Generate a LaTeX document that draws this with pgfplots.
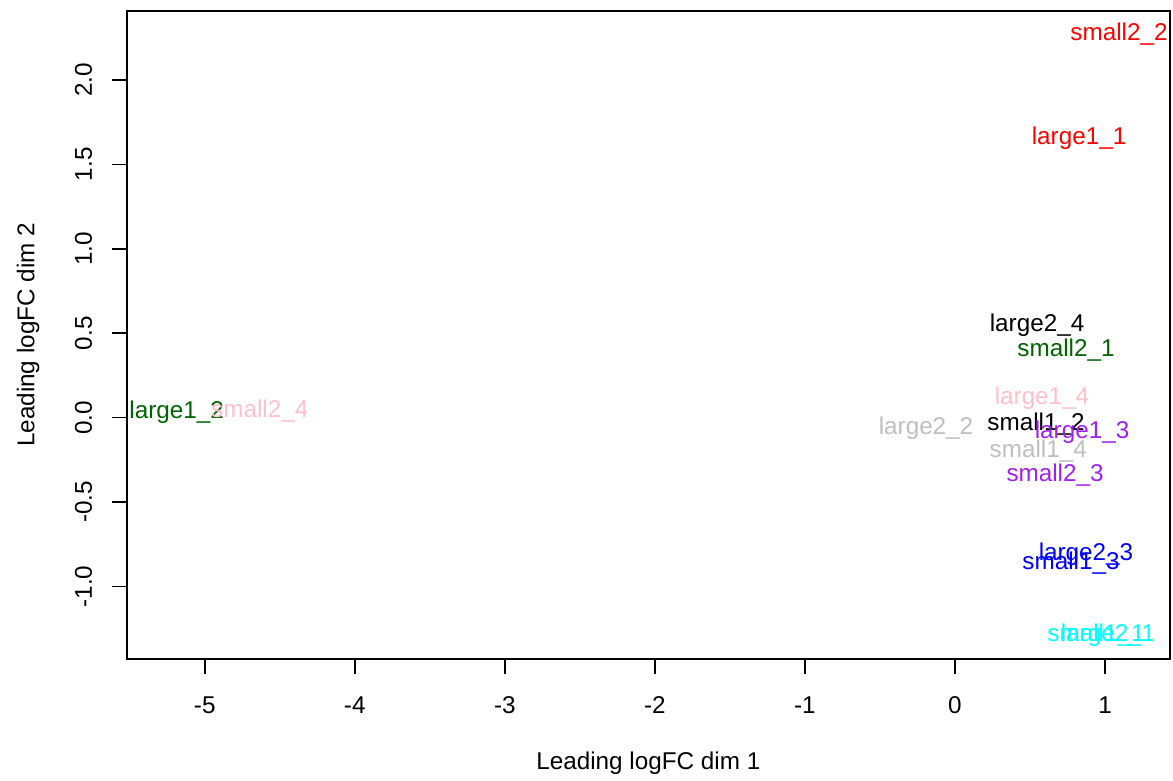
\documentclass[border=0pt]{standalone}
\usepackage{fontspec}
\setmainfont{Liberation Sans}
\usepackage{pgfplots}
\pgfplotsset{compat=1.18}
\definecolor{redR}{HTML}{FF0000}
\definecolor{greenR}{HTML}{006400}
\definecolor{pinkR}{HTML}{FFC0CB}
\definecolor{purpleR}{HTML}{A020F0}
\definecolor{greyR}{HTML}{BEBEBE}
\definecolor{blueR}{HTML}{0000FF}
\definecolor{cyanR}{HTML}{00FFFF}
\pgfplotsset{
  lab/.style={draw=none, mark=none, nodes near coords, point meta=explicit symbolic,
    every node near coord/.append style={text=#1, anchor=center, inner sep=0pt, font=\fontsize{12}{14}\selectfont}}
}
\begin{document}
\begin{tikzpicture}[font=\fontsize{12}{14}\selectfont]
\begin{axis}[
  scale only axis, width=515.9pt, height=320.4pt,
  xmin=-5.52, xmax=1.433, ymin=-1.429, ymax=2.408,
  clip=false,
  axis line style={line width=0.8pt},
  xtick={-5,-4,-3,-2,-1,0,1}, xticklabels={-5,-4,-3,-2,-1,0,1},
  ytick={-1,-0.5,0,0.5,1,1.5,2}, yticklabels={-1.0,-0.5,0.0,0.5,1.0,1.5,2.0},
  xtick pos=lower, ytick pos=left,
  tick align=outside, major tick length=7.4pt,
  tick style={line width=0.8pt, black},
  xticklabel style={anchor=center, yshift=-15.4pt},
  yticklabel style={rotate=90, anchor=center, yshift=13.9pt},
]
\addplot[lab=redR] coordinates {(1.093,2.270)[small2\_2] (0.827,1.655)[large1\_1]};
\addplot[lab=greenR] coordinates {(-5.187,0.030)[large1\_2] (0.740,0.397)[small2\_1]};
\addplot[lab=black] coordinates {(0.547,0.546)[large2\_4] (0.540,-0.036)[small1\_2]};
\addplot[lab=pinkR] coordinates {(0.580,0.113)[large1\_4] (-4.633,0.036)[small2\_4]};
\addplot[lab=purpleR] coordinates {(0.847,-0.089)[large1\_3] (0.667,-0.338)[small2\_3]};
\addplot[lab=greyR] coordinates {(-0.193,-0.065)[large2\_2] (0.555,-0.196)[small1\_4]};
\addplot[lab=blueR] coordinates {(0.873,-0.810)[large2\_3] (0.773,-0.860)[small1\_3]};
\addplot[lab=cyanR] coordinates {(0.940,-1.287)[small1\_1] (1.020,-1.287)[large2\_1]};
\end{axis}
\node at ([yshift=-51.4pt]current axis.south) {Leading logFC dim 1};
\node[rotate=90] at ([xshift=-48.8pt]current axis.west) {Leading logFC dim 2};
\path ([xshift=-62.65pt, yshift=-58.8pt]current axis.south west) rectangle ([xshift=1.48pt, yshift=5.44pt]current axis.north east);
\end{tikzpicture}
\end{document}
